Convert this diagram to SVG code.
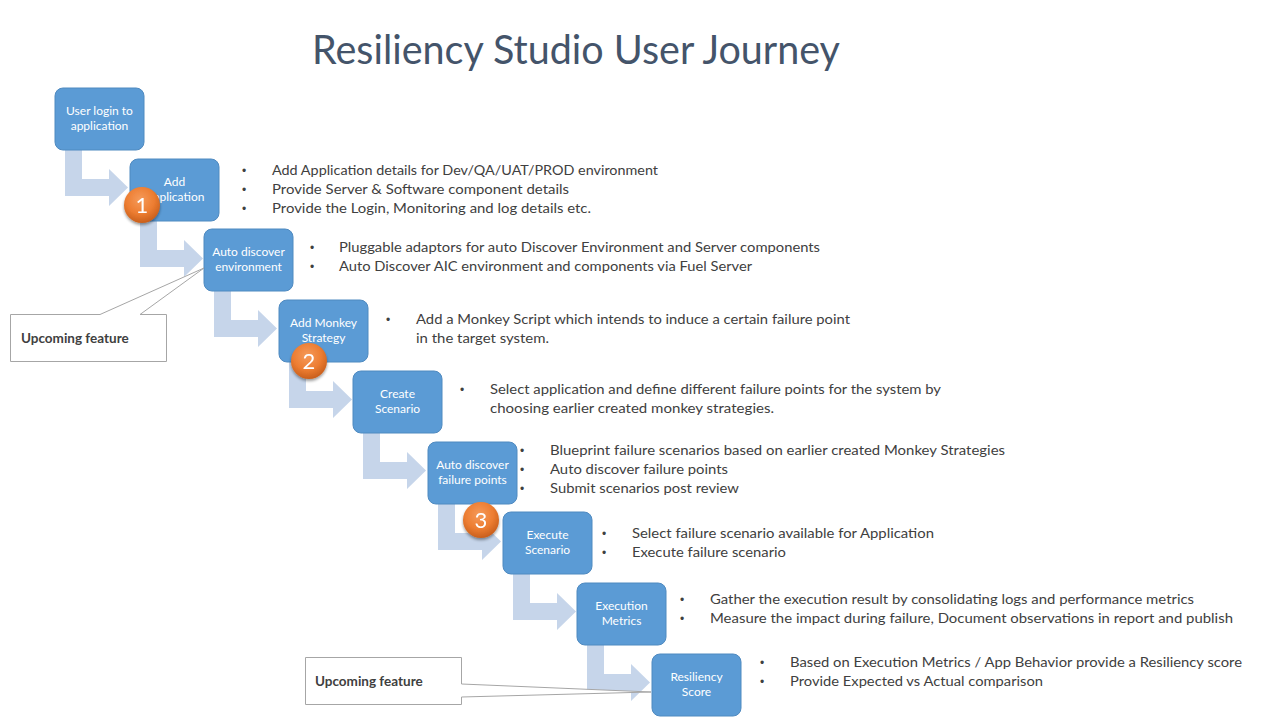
<svg xmlns="http://www.w3.org/2000/svg" width="1280" height="720" viewBox="0 0 1280 720">
<style>
.title{font-family:Lato,"Open Sans","Liberation Sans",sans-serif;font-size:40px;fill:#44546a;}
.box{fill:#5b9bd5;stroke:#4f8ac0;stroke-width:1;}
.bt{font-family:Lato,"Liberation Sans",sans-serif;font-size:12px;fill:#ffffff;text-anchor:middle;}
.arr{fill:#c6d5ea;}
.bl{font-family:Lato,"Liberation Sans",sans-serif;font-size:14px;fill:#404040;}
.dot{fill:#404040;}
.badge{fill:url(#og);}
.bn{font-family:Lato,"Liberation Sans",sans-serif;font-size:22px;fill:#ffffff;text-anchor:middle;}
.call{fill:#ffffff;stroke:#a6a6a6;stroke-width:1;}
.ct{font-family:Lato,"Liberation Sans",sans-serif;font-size:13.5px;font-weight:bold;fill:#404040;}
</style>
<defs>
<path id="arr" d="M10,62 L27,62 L27,91 L54,91 L54,81 L73,99.5 L54,118 L54,108 L10,108 Z"/>
<radialGradient id="og" cx="0.45" cy="0.35" r="0.65">
<stop offset="0" stop-color="#f59a5a"/>
<stop offset="0.6" stop-color="#ed7d31"/>
<stop offset="1" stop-color="#c95f1c"/>
</radialGradient>
<filter id="sh" x="-30%" y="-30%" width="160%" height="170%">
<feGaussianBlur in="SourceAlpha" stdDeviation="1.5"/>
<feOffset dx="0" dy="2" result="b"/>
<feComponentTransfer><feFuncA type="linear" slope="0.4"/></feComponentTransfer>
<feMerge><feMergeNode/><feMergeNode in="SourceGraphic"/></feMerge>
</filter>
</defs>
<rect width="1280" height="720" fill="#ffffff"/>
<text class="title" x="312" y="64" textLength="528" lengthAdjust="spacingAndGlyphs">Resiliency Studio User Journey</text>

<g id="connectors" class="arr">
<use href="#arr" x="55" y="88"/>
<use href="#arr" x="130" y="159"/>
<use href="#arr" x="204" y="229"/>
<use href="#arr" x="279" y="300"/>
<use href="#arr" x="353" y="371"/>
<use href="#arr" x="428" y="442"/>
<use href="#arr" x="503" y="512"/>
<use href="#arr" x="577" y="583"/>
</g>

<g id="n1"><rect class="box" x="55" y="88" width="89" height="62" rx="8"/><text class="bt" x="99.5" y="115">User login to</text><text class="bt" x="99.5" y="130">application</text></g>
<g id="n2"><rect class="box" x="130" y="159" width="89" height="62" rx="8"/><text class="bt" x="174.5" y="186">Add</text><text class="bt" x="174.5" y="201">Application</text>
<text class="dot" x="242" y="175" font-family="Liberation Sans" font-size="12">•</text><text class="bl" x="272" y="175" textLength="386" lengthAdjust="spacingAndGlyphs">Add Application details for Dev/QA/UAT/PROD environment</text>
<text class="dot" x="242" y="194" font-family="Liberation Sans" font-size="12">•</text><text class="bl" x="272" y="194" textLength="297" lengthAdjust="spacingAndGlyphs">Provide Server &amp; Software component  details</text>
<text class="dot" x="242" y="213" font-family="Liberation Sans" font-size="12">•</text><text class="bl" x="272" y="213" textLength="319" lengthAdjust="spacingAndGlyphs">Provide the Login, Monitoring  and log details etc.</text></g>
<g id="n3"><rect class="box" x="204" y="229" width="89" height="62" rx="8"/><text class="bt" x="248.5" y="256">Auto discover</text><text class="bt" x="248.5" y="271">environment</text>
<text class="dot" x="310" y="252" font-family="Liberation Sans" font-size="12">•</text><text class="bl" x="339" y="252" textLength="481" lengthAdjust="spacingAndGlyphs">Pluggable adaptors for auto Discover Environment and Server components</text>
<text class="dot" x="310" y="271" font-family="Liberation Sans" font-size="12">•</text><text class="bl" x="339" y="271" textLength="413" lengthAdjust="spacingAndGlyphs">Auto Discover AIC environment and components via Fuel Server</text></g>
<g id="n4"><rect class="box" x="279" y="300" width="89" height="62" rx="8"/><text class="bt" x="323.5" y="327">Add Monkey</text><text class="bt" x="323.5" y="342">Strategy</text>
<text class="dot" x="386" y="324" font-family="Liberation Sans" font-size="12">•</text><text class="bl" x="416" y="324" textLength="434" lengthAdjust="spacingAndGlyphs">Add a Monkey Script which intends to induce a certain failure point</text>
<text class="bl" x="416" y="343" textLength="133" lengthAdjust="spacingAndGlyphs">in the target system.</text></g>
<g id="n5"><rect class="box" x="353" y="371" width="89" height="62" rx="8"/><text class="bt" x="397.5" y="398">Create</text><text class="bt" x="397.5" y="413">Scenario</text>
<text class="dot" x="460" y="394" font-family="Liberation Sans" font-size="12">•</text><text class="bl" x="490" y="394" textLength="451" lengthAdjust="spacingAndGlyphs">Select application and define different failure points for the system by</text>
<text class="bl" x="490" y="413" textLength="284" lengthAdjust="spacingAndGlyphs">choosing earlier created monkey  strategies.</text></g>
<g id="n6"><rect class="box" x="428" y="442" width="89" height="62" rx="8"/><text class="bt" x="472.5" y="469">Auto discover</text><text class="bt" x="472.5" y="484">failure points</text>
<text class="dot" x="520" y="455" font-family="Liberation Sans" font-size="12">•</text><text class="bl" x="550" y="455" textLength="455" lengthAdjust="spacingAndGlyphs">Blueprint failure scenarios based on earlier created Monkey Strategies</text>
<text class="dot" x="520" y="474" font-family="Liberation Sans" font-size="12">•</text><text class="bl" x="550" y="474" textLength="178" lengthAdjust="spacingAndGlyphs">Auto discover failure points</text>
<text class="dot" x="520" y="493" font-family="Liberation Sans" font-size="12">•</text><text class="bl" x="550" y="493" textLength="189" lengthAdjust="spacingAndGlyphs">Submit scenarios post review</text></g>
<g id="n7"><rect class="box" x="503" y="512" width="89" height="62" rx="8"/><text class="bt" x="547.5" y="539">Execute</text><text class="bt" x="547.5" y="554">Scenario</text>
<text class="dot" x="602" y="538" font-family="Liberation Sans" font-size="12">•</text><text class="bl" x="632" y="538" textLength="302" lengthAdjust="spacingAndGlyphs">Select failure scenario available for Application</text>
<text class="dot" x="602" y="557" font-family="Liberation Sans" font-size="12">•</text><text class="bl" x="632" y="557" textLength="154" lengthAdjust="spacingAndGlyphs">Execute failure scenario</text></g>
<g id="n8"><rect class="box" x="577" y="583" width="89" height="62" rx="8"/><text class="bt" x="621.5" y="610">Execution</text><text class="bt" x="621.5" y="625">Metrics</text>
<text class="dot" x="680" y="604" font-family="Liberation Sans" font-size="12">•</text><text class="bl" x="710" y="604" textLength="484" lengthAdjust="spacingAndGlyphs">Gather the execution result by consolidating logs and performance metrics</text>
<text class="dot" x="680" y="623" font-family="Liberation Sans" font-size="12">•</text><text class="bl" x="710" y="623" textLength="523" lengthAdjust="spacingAndGlyphs">Measure the impact during failure, Document observations in report and publish</text></g>
<g id="n9"><rect class="box" x="652" y="654" width="89" height="62" rx="8"/><text class="bt" x="696.5" y="681">Resiliency</text><text class="bt" x="696.5" y="696">Score</text>
<text class="dot" x="760" y="667" font-family="Liberation Sans" font-size="12">•</text><text class="bl" x="790" y="667" textLength="452" lengthAdjust="spacingAndGlyphs">Based on Execution Metrics / App Behavior provide a Resiliency score</text>
<text class="dot" x="760" y="686" font-family="Liberation Sans" font-size="12">•</text><text class="bl" x="790" y="686" textLength="253" lengthAdjust="spacingAndGlyphs">Provide Expected vs Actual comparison</text></g>

<g id="badge1" filter="url(#sh)"><circle class="badge" cx="142" cy="205" r="18"/><text class="bn" x="142" y="213">1</text></g>
<g id="badge2" filter="url(#sh)"><circle class="badge" cx="309" cy="361" r="18"/><text class="bn" x="309" y="369">2</text></g>
<g id="badge3" filter="url(#sh)"><circle class="badge" cx="481" cy="520" r="18"/><text class="bn" x="481" y="528">3</text></g>

<g id="callout1"><path class="call" d="M10.5,314.5 L100,314.5 L204,268 L140,314.5 L166.5,314.5 L166.5,361.5 L10.5,361.5 Z"/><text class="ct" x="21" y="343">Upcoming feature</text></g>
<g id="callout2"><path class="call" d="M305.5,657.5 L461.5,657.5 L461.5,684 L651,692 L461.5,697 L461.5,704.5 L305.5,704.5 Z"/><text class="ct" x="315" y="686">Upcoming feature</text></g>
</svg>
